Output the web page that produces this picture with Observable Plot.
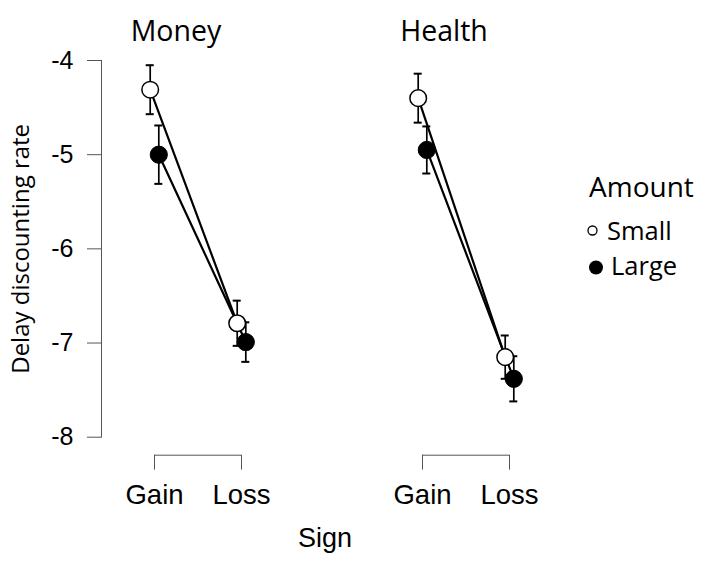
<!DOCTYPE html>
<html><head><meta charset="utf-8">
<script src="https://cdn.jsdelivr.net/npm/d3@7"></script>
<script src="https://cdn.jsdelivr.net/npm/@observablehq/plot@0.6"></script>
<style>
html,body{margin:0;padding:0;background:#fff;}
#chart{position:relative;width:709px;height:570px;}
#legend{position:absolute;left:570px;top:150px;}
</style></head>
<body><div id="chart"></div>
<script>
// ---- data ----
const domains = ["Money", "Health"];
const signs = ["Gain", "Loss"];
const amounts = ["Small", "Large"];
const yTicks = [-4, -5, -6, -7, -8];
const moneySmallMean = [-4.31, -6.79];
const moneySmallSE = [0.26, 0.24];
const moneyLargeMean = [-5.00, -6.99];
const moneyLargeSE = [0.31, 0.21];
const healthSmallMean = [-4.40, -7.15];
const healthSmallSE = [0.26, 0.23];
const healthLargeMean = [-4.95, -7.38];
const healthLargeSE = [0.25, 0.24];
const yTitle = "Delay discounting rate";
const xTitle = "Sign";
const legendTitle = "Amount";

// ---- build table ----
const source = {
  Money: {Small: [moneySmallMean, moneySmallSE], Large: [moneyLargeMean, moneyLargeSE]},
  Health: {Small: [healthSmallMean, healthSmallSE], Large: [healthLargeMean, healthLargeSE]}
};
const rows = [];
for (const domain of domains) for (const amount of amounts) {
  const [m, se] = source[domain][amount];
  signs.forEach((sign, i) => rows.push({domain, amount, sign, mean: m[i], lo: m[i] - se[i], hi: m[i] + se[i]}));
}
const small = rows.filter(d => d.amount === "Small");
const large = rows.filter(d => d.amount === "Large");
const dodge = {Small: -4.3, Large: 4.3};
const axisColor = "#555";
const sans = "'Liberation Sans', Arial, sans-serif";
const humanist = "'Open Sans', sans-serif";

const bars = (data, amount) => [
  Plot.ruleX(data, {fx: "domain", x: "sign", y1: "lo", y2: "hi", dx: dodge[amount], stroke: "black", strokeWidth: 1.7}),
  Plot.ruleY(data, {fx: "domain", x1: "sign", x2: "sign", y: "lo", dx: dodge[amount], insetLeft: -4, insetRight: -4, stroke: "black", strokeWidth: 2}),
  Plot.ruleY(data, {fx: "domain", x1: "sign", x2: "sign", y: "hi", dx: dodge[amount], insetLeft: -4, insetRight: -4, stroke: "black", strokeWidth: 2})
];

const chart = Plot.plot({
  width: 709,
  height: 570,
  marginLeft: 101,
  marginRight: 146.5,
  marginTop: 60,
  marginBottom: 133.3,
  style: {fontFamily: sans, background: "white", color: "black", overflow: "visible"},
  fx: {domain: domains, paddingInner: 0.278, paddingOuter: 0, axis: null, label: null},
  x: {type: "point", domain: signs, padding: 0.6057, axis: null},
  y: {domain: [yTicks[yTicks.length - 1], yTicks[0]], axis: null},
  marks: [
    Plot.axisY({ticks: yTicks, tickSize: 14, tickPadding: 14, tickFormat: d => String(d), fontSize: 25, label: null, stroke: axisColor, fill: "black"}),
    Plot.frame({anchor: "left", fx: () => "Money", stroke: axisColor}),
    Plot.ruleY([signs], {x1: d => d[0], x2: d => d[1], y: () => yTicks[yTicks.length - 1], dy: 18, stroke: axisColor}),
    Plot.axisX({tickSize: 15, tickPadding: 14, dy: 18, fontSize: 27.5, label: null, stroke: axisColor, fill: "black"}),
    Plot.text(domains, {fx: d => d, x: () => signs[0], text: d => d, frameAnchor: "top", dx: 21.5, dy: -39.3, fontSize: 28.5, fontFamily: humanist, fill: "black"}),
    Plot.text([yTitle], {fx: () => domains[0], text: d => d, frameAnchor: "left", textAnchor: "middle", rotate: -90, dx: -80.4, dy: 0, fontSize: 24, fontFamily: humanist, fill: "black"}),
    Plot.text([xTitle], {text: d => d, facet: "super", frameAnchor: "bottom", dx: -7, dy: 110, fontSize: 27, fill: "black"}),
    Plot.line(small, {fx: "domain", x: "sign", y: "mean", dx: dodge.Small, stroke: "black", strokeWidth: 2.2}),
    Plot.line(large, {fx: "domain", x: "sign", y: "mean", dx: dodge.Large, stroke: "black", strokeWidth: 2.2}),
    ...bars(small, "Small"),
    ...bars(large, "Large"),
    Plot.dot(small, {fx: "domain", x: "sign", y: "mean", dx: dodge.Small, r: 8.3, fill: "white", stroke: "black", strokeWidth: 1.5}),
    Plot.dot(large, {fx: "domain", x: "sign", y: "mean", dx: dodge.Large, r: 8.6, fill: "black", stroke: "black", strokeWidth: 1})
  ]
});
document.getElementById("chart").appendChild(chart);

// ---- legend ----
const leg = d3.select("#chart").append("svg").attr("id", "legend").attr("width", 139).attr("height", 140)
  .style("font-family", humanist);
leg.append("text").attr("x", 19).attr("y", 47).style("font-size", "28px").text(legendTitle);
leg.append("circle").attr("cx", 22.5).attr("cy", 80.5).attr("r", 4.5).attr("fill", "white").attr("stroke", "black").attr("stroke-width", 1.3);
leg.append("text").attr("x", 37).attr("y", 89.5).style("font-size", "25.5px").text(amounts[0]);
leg.append("circle").attr("cx", 26).attr("cy", 117.5).attr("r", 7).attr("fill", "black");
leg.append("text").attr("x", 41).attr("y", 124.5).style("font-size", "25.5px").text(amounts[1]);
</script>
</body></html>
